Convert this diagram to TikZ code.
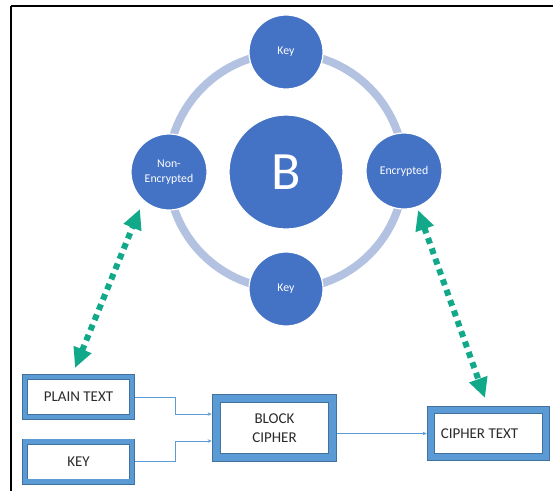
\documentclass[tikz,border=0pt]{standalone}
\usepackage{fontspec}
\setmainfont{Carlito}
\usetikzlibrary{arrows.meta}
\definecolor{cblue}{HTML}{4472C4}
\definecolor{ringc}{HTML}{B4C2E2}
\definecolor{boxlight}{HTML}{5B9BD5}
\definecolor{boxdark}{HTML}{41719C}
\definecolor{tealg}{HTML}{12A98A}
\definecolor{txt}{HTML}{2B2B2B}
\tikzset{
  circ/.style={circle, fill=cblue, draw=white, line width=1.2pt, text=white, inner sep=0pt, align=center, font=\fontsize{11.8}{15.5}\selectfont},
  tbox/.style={draw=boxdark, double=boxlight, line width=0.7pt, fill=white, text=txt, align=center, inner sep=0pt, font=\fontsize{15}{18.5}\selectfont},
  conn/.style={draw=boxlight, line width=0.8pt, -{Stealth[length=4pt,width=3.5pt]}},
  gdot/.style={draw=tealg, line width=6pt, dash pattern=on 6pt off 5pt, {Triangle[length=20pt,width=18pt]}-{Triangle[length=20pt,width=18pt]}}
}
\begin{document}
\begin{tikzpicture}[x=1pt,y=-1pt]
\useasboundingbox (0,0) rectangle (553,491);
\fill[white] (0,0) rectangle (553,491);
% frame
\draw[black, line width=2.8pt] (11,6) -- (553,6);
\draw[black, line width=2.8pt] (11,6) -- (11,491);
% ring
\coordinate (rc) at (286,171);
\draw[ringc, line width=8pt] (rc) circle[radius=118];
% circles
\node[circ, minimum size=114pt, font=\fontsize{54}{54}\selectfont] (b) at (286,172) {B};
\node[circ, minimum size=74pt] (ktop) at (286,52) {Key};
\node[circ, minimum size=74pt] (kbot) at (286,289) {Key};
\node[circ, minimum size=76pt] (non) at (169,172) {Non-\\Encrypted};
\node[circ, minimum size=76pt] (enc) at (404,171) {Encrypted};
% boxes
\node[tbox, double distance=4.6pt, minimum width=107pt, minimum height=40pt] (plain) at (78.5,397) {PLAIN TEXT};
\node[tbox, double distance=4.6pt, minimum width=107pt, minimum height=40pt] (key) at (78.5,461.5) {KEY};
\node[tbox, double distance=7.6pt, minimum width=116pt, minimum height=59pt] (block) at (274.5,428) {BLOCK\\CIPHER};
\node[tbox, double distance=6.6pt, minimum width=115pt, minimum height=47pt] (cipher) at (488.5,433.5) {CIPHER TEXT\hspace*{18pt}};
% connectors
\coordinate (bin1) at ([xshift=-4.5pt,yshift=14pt]block.west);
\coordinate (bin2) at ([xshift=-4.5pt,yshift=-13pt]block.west);
\coordinate (pout) at ([xshift=3pt]plain.east);
\coordinate (kout) at ([xshift=3pt]key.east);
\coordinate (bout) at ([xshift=4.5pt]block.east |- cipher.west);
\coordinate (cin) at ([xshift=-4pt]cipher.west);
\coordinate (e1) at (175,397);
\coordinate (e2) at (175,461.5);
\draw[conn] (pout) -- (e1) |- (bin1);
\draw[conn] (kout) -- (e2) |- (bin2);
\draw[conn] (bout) -- (cin);
% green dotted arrows
\coordinate (g1a) at (75,368);
\coordinate (g1b) at (140,209);
\coordinate (g2a) at (418,210);
\coordinate (g2b) at (485,398);
\draw[gdot] (g1a) -- (g1b);
\draw[gdot] (g2a) -- (g2b);
\end{tikzpicture}
\end{document}
